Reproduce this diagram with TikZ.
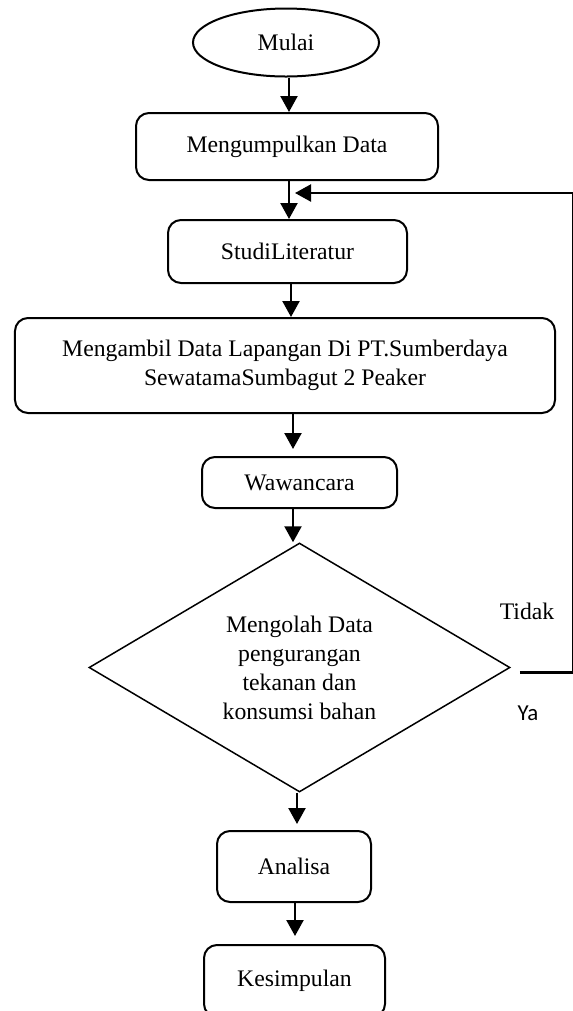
\documentclass[tikz,border=0pt]{standalone}
\usepackage{fontspec}
\setmainfont{Liberation Serif}
\newfontfamily\yafont{Carlito}
\usetikzlibrary{arrows.meta,shapes.geometric}
\tikzset{
	teks/.style={font=\fontsize{13.5}{16.5}\selectfont, align=center},
	proses/.style={teks, draw, rounded corners=0.26cm, line width=0.4mm, inner sep=0pt},
	terminal/.style={teks, draw, ellipse, line width=0.4mm, minimum width=3.72cm, minimum height=1.36cm, inner sep=0pt},
	keputusan/.style={teks, draw, diamond, aspect=1.7, line width=0.3mm, minimum width=8.42cm, minimum height=4.98cm, inner sep=0pt},
	panah/.style={-{Triangle[length=0.32cm,width=0.34cm]}, line width=0.45mm}
}

\begin{document}
\begin{tikzpicture}
	%%%%% START %%%%%
	
	\useasboundingbox (0,0) rectangle (11.46,-20.22);
	
	\node[terminal] (mulai) at (5.72,-0.85) {Mulai};
	\node[proses, minimum width=6.04cm, minimum height=1.34cm] (kumpul) at (5.74,-2.93) {Mengumpulkan Data};
	\node[proses, minimum width=4.78cm, minimum height=1.26cm] (studi) at (5.75,-5.03) {StudiLiteratur};
	\node[proses, minimum width=10.8cm, minimum height=1.9cm] (ambil) at (5.70,-7.31) {Mengambil Data Lapangan Di PT.Sumberdaya\\SewatamaSumbagut 2 Peaker};
	\node[proses, minimum width=3.9cm, minimum height=1.02cm] (wawancara) at (5.99,-9.65) {Wawancara};
	\node[keputusan] (olah) at (5.99,-13.35) {Mengolah Data\\pengurangan\\tekanan dan\\konsumsi bahan};
	\node[proses, minimum width=3.08cm, minimum height=1.42cm] (analisa) at (5.88,-17.33) {Analisa};
	\node[proses, minimum width=3.62cm, minimum height=1.44cm] (simpul) at (5.89,-19.62) {\raisebox{0.12cm}{Kesimpulan}};
	
	\node[teks] (tidak) at (10.54,-12.22) {Tidak};
	\node[font=\yafont\fontsize{13}{15}\selectfont] (ya) at (10.56,-14.26) {Ya};
	
	\draw[panah] ([xshift=0.06cm]mulai.south) -- ([xshift=0.06cm]mulai.south |- kumpul.north);
	\draw[panah] ([xshift=0.04cm]kumpul.south) -- ([xshift=0.04cm]kumpul.south |- studi.north);
	\draw[panah] ([xshift=0.07cm]studi.south) -- ([xshift=0.07cm]studi.south |- ambil.north);
	\draw[panah] ([xshift=0.16cm]ambil.south) -- ([xshift=0.16cm,yshift=0.14cm]ambil.south |- wawancara.north);
	\draw[panah] ([xshift=-0.13cm]wawancara.south) -- ([xshift=-0.13cm]wawancara.south |- olah.north);
	\draw[panah] ([xshift=-0.05cm]olah.south) -- ([xshift=-0.05cm,yshift=0.12cm]olah.south |- analisa.north);
	\draw[panah] ([xshift=0.02cm]analisa.south) -- ([xshift=0.02cm,yshift=0.16cm]analisa.south |- simpul.north);
	
	% kembali ke studi literatur
	\coordinate (balik) at (5.90,-3.86);
	\draw[panah] ([xshift=0.18cm,yshift=-0.1cm]olah.east) -- ++(1.06,0) |- (balik);
	
	%%%%% END %%%%%
\end{tikzpicture}
\end{document}
